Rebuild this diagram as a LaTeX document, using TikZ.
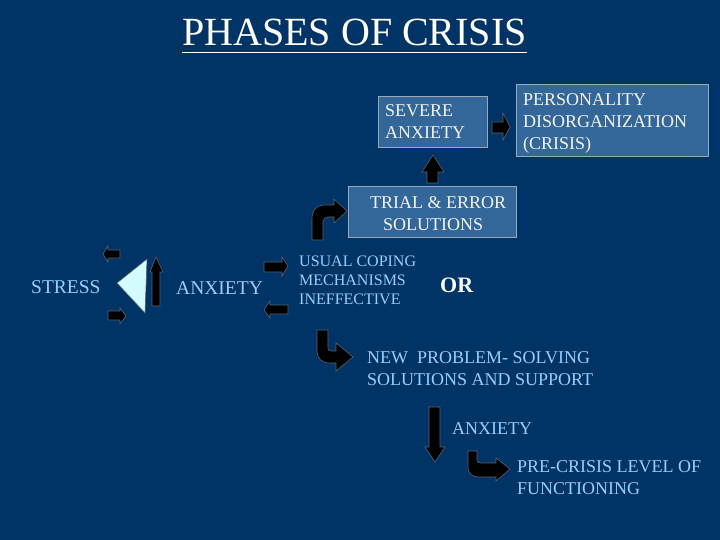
\documentclass[tikz,border=0pt]{standalone}
\usepackage{fontspec}
\setmainfont{Liberation Serif}
\definecolor{bg}{HTML}{003366}
\definecolor{boxfill}{HTML}{336699}
\definecolor{boxline}{HTML}{9AA8B8}
\definecolor{lblue}{HTML}{99CCFF}
\definecolor{boxtext}{HTML}{F2F2F2}
\definecolor{tri}{HTML}{D4FCFF}
\definecolor{arrline}{HTML}{5A6470}
\tikzset{
  panel/.style={draw=boxline, line width=0.8pt, fill=boxfill, anchor=north west, inner sep=0pt},
  btxt/.style={anchor=base west, inner sep=0pt, text=boxtext, font=\fontsize{18}{22}\selectfont},
  ltxt/.style={anchor=base west, inner sep=0pt, text=lblue, font=\fontsize{18}{22}\selectfont},
  stxt/.style={anchor=base west, inner sep=0pt, text=lblue, font=\fontsize{16}{19}\selectfont},
  blockarrow/.style={fill=black, draw=arrline, line width=0.6pt, line join=miter},
}
\begin{document}
\begin{tikzpicture}[x=1pt,y=-1pt]
\fill[bg] (0,0) rectangle (720,540);
\useasboundingbox (0,0) rectangle (720,540);

% title
\node (title) [anchor=base west, inner sep=0pt, text=white, font=\fontsize{40}{44}\selectfont] at (182,46) {PHASES OF CRISIS};
\draw[white, line width=1.8pt] ([yshift=-6.5pt]title.base west) -- ([yshift=-6.5pt]title.base east);

% boxes
\node (severe) [panel, minimum width=109pt, minimum height=51pt] at (378,96) {};
\node (pers) [panel, minimum width=192pt, minimum height=72pt] at (516,84) {};
\node (trial) [panel, minimum width=168pt, minimum height=51pt] at (348,186) {};

\node (s1) [btxt] at (385,117) {SEVERE};
\node (s2) [btxt] at (385,139) {ANXIETY};
\node (p1) [btxt] at (523,106) {PERSONALITY};
\node (p2) [btxt] at (523,128) {DISORGANIZATION};
\node (p3) [btxt] at (523,150) {(CRISIS)};
\node (t1) [btxt] at (370,208) {TRIAL \& ERROR};
\node (t2) [btxt] at (383,230) {SOLUTIONS};

% left texts
\node (stress) [ltxt, font=\fontsize{19.5}{22}\selectfont] at (31,293) {STRESS};
\node (anx1) [ltxt, font=\fontsize{19.5}{22}\selectfont] at (176,294) {ANXIETY};
\node (u1) [stxt] at (299,266) {USUAL COPING};
\node (u2) [stxt] at (299,285) {MECHANISMS};
\node (u3) [stxt] at (299,304) {INEFFECTIVE};
\node (or) [anchor=base west, inner sep=0pt, text=white, font=\fontsize{22}{24}\selectfont\bfseries] at (440,292) {OR};

% lower texts
\node (n1) [ltxt] at (367,363) {NEW\ \ PROBLEM- SOLVING};
\node (n2) [ltxt] at (367,385) {SOLUTIONS AND SUPPORT};
\node (anx2) [ltxt] at (452,434) {ANXIETY};
\node (pc1) [ltxt] at (517,472) {PRE-CRISIS LEVEL OF};
\node (pc2) [ltxt] at (517,494) {FUNCTIONING};

% triangle and thin arrow
\filldraw[fill=tri, draw=arrline, line width=0.6pt] (117,283) -- (147,259) -- (145,313) -- cycle;
\filldraw[blockarrow] (152,306) -- (152,272) -- (150,272) -- (156,257) -- (163,272) -- (160,272) -- (160,306) -- cycle;

% small arrows near triangle
\filldraw[blockarrow] (120,250) -- (108,250) -- (108,246) -- (103,254) -- (108,262) -- (108,258) -- (120,258) -- cycle;
\filldraw[blockarrow] (108,311) -- (120,311) -- (120,308) -- (126,316) -- (120,324) -- (120,320) -- (108,320) -- cycle;

% arrows near ANXIETY
\filldraw[blockarrow] (264,262) -- (282,262) -- (282,257) -- (288,266) -- (282,276) -- (282,272) -- (264,272) -- cycle;
\filldraw[blockarrow] (288,305) -- (270,305) -- (270,301) -- (264,310) -- (270,318) -- (270,314) -- (288,314) -- cycle;

% bent arrow up-right to TRIAL
\filldraw[blockarrow] (312,240) -- (312,220) .. controls (312,210) and (316,205) .. (326,205) -- (334,205) -- (334,199) -- (347,211) -- (334,223) -- (334,217) -- (328,217) .. controls (325,217) and (323,219) .. (323,222) -- (323,240) -- cycle;

% up arrow TRIAL -> SEVERE
\filldraw[blockarrow] (427,183) -- (427,172) -- (422,172) -- (433,155) -- (444,172) -- (438,172) -- (438,183) -- cycle;

% right arrow SEVERE -> PERSONALITY
\filldraw[blockarrow] (492,122) -- (503,122) -- (503,113) -- (510,127) -- (503,140) -- (503,133) -- (492,133) -- cycle;

% bent arrow down-right to NEW PROBLEM
\filldraw[blockarrow] (317,330) -- (317,350) .. controls (317,359) and (322,363) .. (330,363) -- (336,363) -- (336,371) -- (353,357) -- (336,343) -- (336,351) -- (331,351) .. controls (329,351) and (328,350) .. (328,348) -- (328,330) -- cycle;

% down arrow
\filldraw[blockarrow] (429,407) -- (440,407) -- (440,447) -- (445,447) -- (435,462) -- (425,447) -- (429,447) -- cycle;

% bent arrow down-right to PRE-CRISIS
\filldraw[blockarrow] (468,451) -- (468,466) .. controls (468,474) and (472,477) .. (480,477) -- (496,477) -- (496,481) -- (510,469) -- (496,458) -- (496,463) -- (481,463) .. controls (478,463) and (477,462) .. (477,460) -- (477,451) -- cycle;
\end{tikzpicture}
\end{document}
